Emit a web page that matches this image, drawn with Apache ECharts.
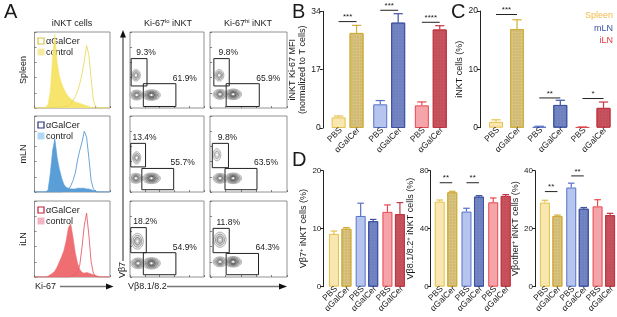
<!DOCTYPE html>
<html>
<head>
<meta charset="utf-8">
<script src="https://cdn.jsdelivr.net/npm/echarts@6/dist/echarts.min.js"></script>
<style>
  html, body { margin: 0; padding: 0; background: #fff; }
  #chart { width: 617px; height: 317px; }
</style>
</head>
<body>
<div id="chart"></div>
<script>
// ---------- data ----------
const tissues = ['Spleen', 'mLN', 'iLN'];
const treatments = ['PBS', 'αGalCer'];

// A: Ki-67 histograms (display scale 0-100, bins every 3)
const histBins = [0,3,6,9,12,15,18,21,24,27,30,33,36,39,42,45,48,51,54,57,60,63,66,69,72,75,78,81,84,87,90,93,96,99];
const spleenControl = [0,0,0,0,0,1,5,22,68,97,60,42,32,25,19,15,12,10,8,7,6,5,4,3,2,1,1,0,0,0,0,0,0,0];
const spleenGalCer  = [0,0,0,0,0,0,0,1,1,1,1,1,1,2,2,3,6,10,15,22,32,45,62,82,70,38,10,2,0,0,0,0,0,0];
const mlnControl    = [0,0,0,0,0,0,3,25,55,70,45,30,18,10,6,5,4,4,4,5,5,5,5,4,4,3,2,1,0,0,0,0,0,0];
const mlnGalCer     = [0,0,0,0,0,0,0,0,0,0,0,0,0,1,2,3,8,15,25,42,55,66,80,72,45,15,4,0,0,0,0,0,0,0];
const ilnControl    = [0,0,0,0,0,0,1,3,5,8,13,20,27,35,48,65,70,52,32,18,10,6,5,6,5,4,3,2,1,0,0,0,0,0];
const ilnGalCer     = [0,0,0,0,0,0,0,0,0,0,0,0,0,0,0,0,1,2,3,8,16,40,68,84,55,20,5,1,0,0,0,0,0,0];

// A: Vb7 vs Vb8.1/8.2 populations [x, y, rx, ry, contour levels]
const blobsLo = [
  [[8,43,6,7.5,3],[9,17,9,6.5,4],[29,17,12,7,5]],
  [[9,45,5.5,8,3],[8,18,9,6.5,4],[29,18,12,7,5]],
  [[10,47,8,10.5,3],[11,18,10,7,4],[29,18,12,7.5,5]]
];
const blobsHi = [
  [[12,43,6,7.5,3],[13,18,9,6.5,4],[30,18,11,7,5]],
  [[9,49,5,8,2],[13,18,9,6.5,4],[30,18,11,7,5]],
  [[13,49,8,10,3],[13,20,9,6.5,4],[30,20,11,7,5]]
];
// gates [x1, x2, y1, y2]: Vb7+ gate then Vb8+ gate
const gatesLo = [
  [[1.5,23,29,65],[18,62,2,32]],
  [[1,21,33,64],[16,59,3,31]],
  [[1,22,32,65],[18,62,3,32]]
];
const gatesHi = [
  [[5,25,29,65],[21,64,2,32]],
  [[3,24,32,64],[19.5,61,3,31]],
  [[4,25,32,64],[21,63,3,31]]
];
const pctLo = [['9.3%','61.9%'], ['13.4%','55.7%'], ['18.2%','54.9%']];
const pctHi = [['9.8%','65.9%'], ['9.8%','63.5%'], ['11.8%','64.3%']];

// B: iNKT Ki-67 MFI
const mfiTicks = [0, 17, 34];
const mfiPBS = [3.1, 6.9, 6.6];
const mfiPBSSem = [0.4, 1.1, 1.0];
const mfiGalCer = [27.7, 30.7, 28.7];
const mfiGalCerSem = [2.2, 2.6, 1.1];
const mfiSig = ['***', '***', '****'];
const mfiSigAt = [31.0, 34.3, 30.8];

// C: iNKT cells (%)
const inktTicks = [0, 10, 20];
const inktPBS = [1.0, 0.15, 0.08];
const inktPBSSem = [0.35, 0.1, 0.05];
const inktGalCer = [16.9, 3.9, 3.4];
const inktGalCerSem = [1.6, 0.8, 1.0];
const inktSig = ['***', '**', '*'];
const inktSigAt = [19.4, 5.1, 5.0];

// D: TCR Vb usage (%)
const vb7Ticks = [0, 10, 20];
const vb7PBS = [9.1, 12.2, 12.9];
const vb7PBSSem = [0.5, 2.2, 1.2];
const vb7GalCer = [10.0, 11.3, 12.5];
const vb7GalCerSem = [0.2, 0.3, 2.0];

const vb8Ticks = [0, 40, 80];
const vb8PBS = [58.7, 51.8, 58.2];
const vb8PBSSem = [1.1, 2.3, 3.0];
const vb8GalCer = [65.1, 62.1, 62.6];
const vb8GalCerSem = [0.7, 0.7, 0.9];
const vb8Sig = ['**', '**', ''];
const vb8SigAt = [71.7, 71.7, 0];

const vbOtherTicks = [0, 20, 40];
const vbOtherPBS = [29.0, 34.2, 27.7];
const vbOtherPBSSem = [0.8, 1.5, 2.3];
const vbOtherGalCer = [24.4, 26.9, 24.7];
const vbOtherGalCerSem = [0.3, 0.4, 0.6];
const vbOtherSig = ['**', '**', ''];
const vbOtherSigAt = [32.8, 38.2, 0];

// ---------- styling ----------
const FONT = '"Liberation Sans", Arial, Helvetica, sans-serif';
const TXT = '#1a1a1a';
const barFill = [['#f8e7ae', '#d8c27c'], ['#b6c5ee', '#7385c4'], ['#f5a4aa', '#c9525e']];
const barEdge = [['#e6c04c', '#d3ad3a'], ['#5672c8', '#3d52a2'], ['#e9474f', '#c23744']];
const histStyle = [
  { fill: '#f6e46c', line: '#e9da60', legLine: '#d6c43e', legFill: '#f6eaa0' },
  { fill: '#5a9ed8', line: '#5b9bd5', legLine: '#27347a', legFill: '#b0d8f2' },
  { fill: '#ef6e72', line: '#e6606a', legLine: '#c01f3a', legFill: '#f6b3c4' }
];
const hatch = { symbol: 'rect', symbolSize: 0.6, dashArrayX: [2, 1], dashArrayY: [2, 1], color: 'rgba(40,40,40,0.16)' };

const chart = echarts.init(document.getElementById('chart'));
const grids = [], xAxes = [], yAxes = [], series = [], graphics = [];

function txt(text, x, y, size, opts) {
  opts = opts || {};
  return {
    type: 'text', x: x, y: y, rotation: opts.rot || 0, silent: true,
    style: Object.assign({
      text: text, x: 0, y: 0, fontSize: size, fontFamily: FONT, fill: opts.color || TXT,
      align: opts.align || 'center', verticalAlign: opts.va || 'middle',
      textAlign: opts.align || 'center', textVerticalAlign: opts.va || 'middle'
    }, opts.style || {})
  };
}

function ellipse(cx, cy, rx, ry) {
  const pts = [];
  for (let i = 0; i < 28; i++) {
    const a = i / 28 * Math.PI * 2;
    pts.push([cx + rx * Math.cos(a), cy + ry * Math.sin(a)]);
  }
  return pts;
}

function plainAxes(gi) {
  xAxes.push({
    gridIndex: gi, type: 'value', min: 0, max: 100, interval: 20,
    axisLine: { show: false }, axisLabel: { show: false }, splitLine: { show: false },
    axisTick: { inside: true, length: 2, lineStyle: { color: '#555', width: 0.7 } }
  });
  yAxes.push({
    gridIndex: gi, type: 'value', min: 0, max: 100, interval: 20,
    axisLine: { show: false }, axisLabel: { show: false }, splitLine: { show: false },
    axisTick: { inside: true, length: 2, lineStyle: { color: '#555', width: 0.7 } }
  });
}

// ---------- panel A: histograms ----------
const rowTop = [32, 116, 201];
const rowH = 76;
const histData = [[spleenControl, spleenGalCer], [mlnControl, mlnGalCer], [ilnControl, ilnGalCer]];

tissues.forEach((t, r) => {
  const gi = grids.length;
  grids.push({ left: 34.5, top: rowTop[r], width: 75.5, height: rowH, show: true, borderColor: '#777', borderWidth: 0.8, backgroundColor: 'transparent' });
  plainAxes(gi);
  const hs = histStyle[r];
  series.push({
    type: 'line', name: 'control', xAxisIndex: gi, yAxisIndex: gi, symbol: 'none', silent: true,
    data: histBins.map((x, i) => [x, histData[r][0][i]]),
    lineStyle: { color: hs.fill, width: 0.6 }, areaStyle: { color: hs.fill, opacity: 1 }
  });
  series.push({
    type: 'line', name: 'αGalCer', xAxisIndex: gi, yAxisIndex: gi, symbol: 'none', silent: true,
    data: histBins.map((x, i) => [x, histData[r][1][i]]),
    lineStyle: { color: hs.line, width: 0.9 }
  });
  // in-plot legend
  graphics.push({ type: 'rect', shape: { x: 38, y: rowTop[r] + 6, width: 6, height: 6 }, style: { fill: '#fff', stroke: hs.legLine, lineWidth: 1.2 } });
  graphics.push(txt('αGalCer', 46, rowTop[r] + 9.5, 9, { align: 'left' }));
  graphics.push({ type: 'rect', shape: { x: 37.5, y: rowTop[r] + 16.5, width: 7, height: 7 }, style: { fill: hs.legFill } });
  graphics.push(txt('control', 46, rowTop[r] + 20.5, 9, { align: 'left' }));
  // row label
  graphics.push(txt(t, 23.5, rowTop[r] + rowH / 2, 9, { rot: Math.PI / 2 }));
});

// ---------- panel A: contour plots ----------
const ringFill = ['#ececec', '#d9d9d9', '#c4c4c4', '#b0b0b0', '#9a9a9a'];
const ringStroke = ['#a0a0a0', '#8a8a8a', '#707070', '#5a5a5a', '#444'];
const flowCols = [
  { left: 130, width: 74, blobs: blobsLo, gates: gatesLo, pct: pctLo },
  { left: 210, width: 77, blobs: blobsHi, gates: gatesHi, pct: pctHi }
];
flowCols.forEach(col => {
  tissues.forEach((t, r) => {
    const gi = grids.length;
    grids.push({ left: col.left, top: rowTop[r], width: col.width, height: rowH, show: true, borderColor: '#777', borderWidth: 0.8, backgroundColor: 'transparent' });
    plainAxes(gi);
    series.push({
      type: 'custom', xAxisIndex: gi, yAxisIndex: gi, silent: true, data: col.blobs[r],
      renderItem: (params, api) => {
        const c = api.coord([api.value(0), api.value(1)]);
        const s = api.size([api.value(2), api.value(3)]);
        const L = api.value(4);
        const children = [];
        for (let k = 0; k < L; k++) {
          const f = 1 - (k / L) * 0.8;
          children.push({ type: 'polygon', shape: { points: ellipse(c[0], c[1], s[0] * f, s[1] * f) },
            style: { fill: ringFill[k], stroke: ringStroke[k], lineWidth: 0.8 } });
        }
        children.push({ type: 'circle', shape: { cx: c[0], cy: c[1], r: 1 }, style: { fill: '#fff' } });
        return { type: 'group', children: children };
      }
    });
    const pct = col.pct[r];
    series.push({
      type: 'custom', xAxisIndex: gi, yAxisIndex: gi, silent: true, z: 4, data: col.gates[r],
      renderItem: (params, api) => {
        const p1 = api.coord([api.value(0), api.value(3)]);
        const p2 = api.coord([api.value(1), api.value(2)]);
        const dx = params.dataIndex === 0 ? -1 : 9;
        return { type: 'group', children: [
          { type: 'rect', shape: { x: p1[0], y: p1[1], width: p2[0] - p1[0], height: p2[1] - p1[1] },
            style: { fill: 'none', stroke: '#222', lineWidth: 1 } },
          { type: 'text', style: { text: pct[params.dataIndex], x: p2[0] + dx, y: p1[1] - 1,
            align: 'center', verticalAlign: 'bottom', textAlign: 'center', textVerticalAlign: 'bottom',
            fontSize: 8.5, fontFamily: FONT, fill: TXT } }
        ] };
      }
    });
  });
});

// panel A titles and axis arrows
graphics.push(txt('A', 4, 2, 20, { align: 'left', va: 'top' }));
graphics.push(txt('iNKT cells', 72, 23.5, 9));
graphics.push({
  type: 'text', x: 168, y: 23.5, silent: true,
  style: { text: 'Ki-67{s|lo} iNKT', x: 0, y: 0, fontSize: 9, fontFamily: FONT, fill: TXT,
    align: 'center', verticalAlign: 'middle', textAlign: 'center', textVerticalAlign: 'middle',
    rich: { s: { fontSize: 6, fontFamily: FONT, fill: TXT, verticalAlign: 'top', padding: [0, 0, 5, 0] } } }
});
graphics.push({
  type: 'text', x: 248, y: 23.5, silent: true,
  style: { text: 'Ki-67{s|hi} iNKT', x: 0, y: 0, fontSize: 9, fontFamily: FONT, fill: TXT,
    align: 'center', verticalAlign: 'middle', textAlign: 'center', textVerticalAlign: 'middle',
    rich: { s: { fontSize: 6, fontFamily: FONT, fill: TXT, verticalAlign: 'top', padding: [0, 0, 5, 0] } } }
});
graphics.push(txt('Ki-67', 35, 286.5, 9, { align: 'left' }));
graphics.push({ type: 'line', shape: { x1: 60, y1: 286.5, x2: 108, y2: 286.5 }, style: { stroke: '#777', lineWidth: 1.6 } });
graphics.push({ type: 'polygon', shape: { points: [[106, 283.5], [113.5, 286.5], [106, 289.5]] }, style: { fill: '#111' } });
graphics.push(txt('Vβ8.1/8.2', 128, 286.5, 9, { align: 'left' }));
graphics.push({ type: 'line', shape: { x1: 167, y1: 286.5, x2: 281, y2: 286.5 }, style: { stroke: '#777', lineWidth: 1.6 } });
graphics.push({ type: 'polygon', shape: { points: [[279, 283.5], [287, 286.5], [279, 289.5]] }, style: { fill: '#111' } });
graphics.push(txt('Vβ7', 123, 270, 9, { rot: Math.PI / 2 }));
graphics.push({ type: 'line', shape: { x1: 123, y1: 261, x2: 123, y2: 36 }, style: { stroke: '#777', lineWidth: 1.6 } });
graphics.push({ type: 'polygon', shape: { points: [[120, 37.5], [123, 30], [126, 37.5]] }, style: { fill: '#111' } });

// ---------- bar panels B, C, D ----------
const barPanels = [
  { name: 'iNKT Ki-67 MFI\n(normalized to T cells)', ticks: mfiTicks,
    pbs: mfiPBS, pbsSem: mfiPBSSem, gal: mfiGalCer, galSem: mfiGalCerSem, sig: mfiSig, sigAt: mfiSigAt,
    lay: { left: 326.8, top: 11.3, width: 124.8, height: 116.7, offset: 4, barW: 14, gap: 0.28, nameGap: 8, fs: 9, lfs: 8.5 } },
  { name: 'iNKT cells (%)', ticks: inktTicks,
    pbs: inktPBS, pbsSem: inktPBSSem, gal: inktGalCer, galSem: inktGalCerSem, sig: inktSig, sigAt: inktSigAt,
    lay: { left: 484.9, top: 11, width: 129.75, height: 116.7, offset: 5, barW: 14, gap: 0.5, nameGap: 10, fs: 9, lfs: 8.5 } },
  { name: 'Vβ7{sup|+} iNKT cells (%)', ticks: vb7Ticks,
    pbs: vb7PBS, pbsSem: vb7PBSSem, gal: vb7GalCer, galSem: vb7GalCerSem, sig: ['', '', ''], sigAt: [0, 0, 0],
    lay: { left: 326.8, top: 170.7, width: 80.25, height: 116, offset: 3.5, barW: 10, gap: 0.25, nameGap: 11, fs: 9, lfs: 8 } },
  { name: 'Vβ8.1/8.2{sup|+} iNKT cells (%)', ticks: vb8Ticks,
    pbs: vb8PBS, pbsSem: vb8PBSSem, gal: vb8GalCer, galSem: vb8GalCerSem, sig: vb8Sig, sigAt: vb8SigAt,
    lay: { left: 432.6, top: 170.7, width: 80.25, height: 116, offset: 2, barW: 10, gap: 0.25, nameGap: 10, fs: 9, lfs: 8 } },
  { name: 'Vβother{sup|+} iNKT cells (%)', ticks: vbOtherTicks,
    pbs: vbOtherPBS, pbsSem: vbOtherPBSSem, gal: vbOtherGalCer, galSem: vbOtherGalCerSem, sig: vbOtherSig, sigAt: vbOtherSigAt,
    lay: { left: 538, top: 170.7, width: 81, height: 116, offset: 3, barW: 10, gap: 0.25, nameGap: 9, fs: 9, lfs: 8 } }
];

barPanels.forEach(p => {
  const L = p.lay;
  const gi = grids.length;
  grids.push({ left: L.left, top: L.top, width: L.width, height: L.height });
  xAxes.push({
    gridIndex: gi, type: 'category', data: tissues,
    axisLine: { show: false }, axisTick: { show: false }, axisLabel: { show: false }
  });
  yAxes.push({
    gridIndex: gi, type: 'value', min: p.ticks[0], max: p.ticks[p.ticks.length - 1], interval: p.ticks[1] - p.ticks[0],
    offset: L.offset, splitLine: { show: false },
    axisLine: { show: true, lineStyle: { color: '#222', width: 1 } },
    axisTick: { show: true, length: 3, lineStyle: { color: '#222', width: 1 } },
    axisLabel: { fontSize: L.lfs, fontFamily: FONT, color: TXT, margin: 2 },
    name: p.name, nameLocation: 'middle', nameGap: L.nameGap,
    nameTextStyle: { fontSize: L.fs, fontFamily: FONT, color: TXT, lineHeight: 10,
      rich: { sup: { fontSize: 6, fontFamily: FONT, color: TXT, verticalAlign: 'top', padding: [0, 0, 4, 0] } } }
  });
  const vals = [p.pbs, p.gal];
  const sems = [p.pbsSem, p.galSem];
  treatments.forEach((tr, ti) => {
    series.push({
      type: 'bar', name: tr, xAxisIndex: gi, yAxisIndex: gi, silent: true,
      barWidth: L.barW, barGap: (L.gap * 100) + '%',
      data: vals[ti].map((v, k) => ({
        value: v,
        itemStyle: { color: barFill[k][ti], borderColor: barEdge[k][ti], borderWidth: 1, decal: ti ? hatch : null }
      })),
      label: {
        show: true, position: 'bottom', formatter: tr, rotate: 45, align: 'right', verticalAlign: 'middle',
        distance: 3, offset: [3, 0], fontSize: L.fs - 0.5, fontFamily: FONT, color: TXT
      }
    });
  });
  // error bars (upper SEM)
  const half = L.barW * (1 + L.gap) / 2;
  const errData = [];
  treatments.forEach((tr, ti) => vals[ti].forEach((v, k) => errData.push([k, v, sems[ti][k], ti])));
  series.push({
    type: 'custom', xAxisIndex: gi, yAxisIndex: gi, silent: true, z: 5, data: errData,
    renderItem: (params, api) => {
      const k = api.value(0), ti = api.value(3);
      const x = api.coord([k, 0])[0] + (ti ? half : -half);
      const y0 = api.coord([k, api.value(1)])[1];
      const y1 = api.coord([k, api.value(1) + api.value(2)])[1];
      const cap = L.barW * 0.33;
      const st = { stroke: barEdge[k][ti], lineWidth: 1.2 };
      return { type: 'group', children: [
        { type: 'line', shape: { x1: x, y1: y0, x2: x, y2: y1 }, style: st },
        { type: 'line', shape: { x1: x - cap, y1: y1, x2: x + cap, y2: y1 }, style: st }
      ] };
    }
  });
  // significance marks
  const sigData = [];
  p.sig.forEach((s, k) => { if (s) sigData.push([k, p.sigAt[k]]); });
  series.push({
    type: 'custom', xAxisIndex: gi, yAxisIndex: gi, silent: true, z: 6, clip: false, data: sigData,
    renderItem: (params, api) => {
      const k = api.value(0);
      const c = api.coord([k, api.value(1)]);
      return { type: 'group', children: [
        { type: 'line', shape: { x1: c[0] - half, y1: c[1], x2: c[0] + half, y2: c[1] }, style: { stroke: '#222', lineWidth: 1 } },
        { type: 'text', style: { text: p.sig[k], x: c[0], y: c[1] - 0.5, align: 'center', verticalAlign: 'bottom',
          textAlign: 'center', textVerticalAlign: 'bottom', fontSize: 8, fontFamily: FONT, fill: TXT } }
      ] };
    }
  });
});

graphics.push(txt('B', 292, 2, 20, { align: 'left', va: 'top' }));
graphics.push(txt('C', 451, 2, 20, { align: 'left', va: 'top' }));
graphics.push(txt('D', 292, 150, 20, { align: 'left', va: 'top' }));
const legendColors = ['#f2b94a', '#3b51a6', '#e63a40'];
tissues.forEach((t, i) => graphics.push(txt(t, 613, 16 + i * 12.5, 9, { align: 'right', color: legendColors[i] })));

chart.setOption({
  animation: false,
  textStyle: { fontFamily: FONT },
  grid: grids,
  xAxis: xAxes,
  yAxis: yAxes,
  series: series,
  graphic: { elements: graphics }
});
window.addEventListener('resize', () => chart.resize());
</script>
</body>
</html>
